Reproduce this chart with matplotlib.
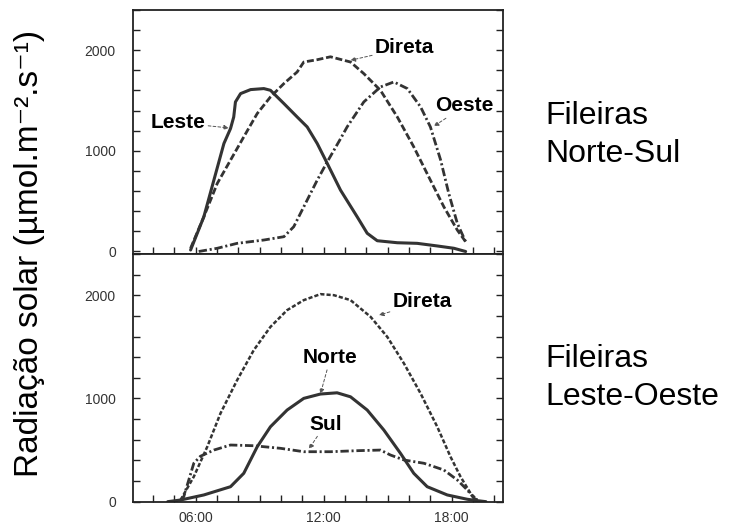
import matplotlib
matplotlib.use("Agg")
import matplotlib.pyplot as plt
from matplotlib.ticker import MultipleLocator, FixedLocator, FixedFormatter

plt.rcParams['font.family'] = ['Liberation Sans', 'DejaVu Sans']
plt.rcParams['lines.scale_dashes'] = False

# --- Fileiras Norte-Sul (hour of day, umol m-2 s-1) ---
ns_direta_h = [5.77, 6.39, 7.02, 7.64, 8.26, 8.89, 9.51, 10.14, 10.76, 11.07, 11.7, 12.32,
               13.26, 13.88, 14.66, 15.45, 16.22, 17.0, 17.63, 18.26, 18.65]
ns_direta_v = [32, 345, 677, 908, 1139, 1371, 1536, 1669, 1784, 1883, 1906, 1935,
               1883, 1768, 1602, 1337, 1040, 709, 444, 213, 97]

ns_leste_h = [5.77, 6.39, 6.86, 7.33, 7.64, 7.79, 7.87, 8.11, 8.58, 9.2, 9.51, 10.14, 10.76,
              11.23, 11.7, 12.17, 12.79, 13.57, 14.04, 14.51, 15.45, 16.38, 17.32, 18.1, 18.65]
ns_leste_v = [15, 345, 709, 1073, 1222, 1337, 1486, 1569, 1609, 1619, 1602, 1470, 1337,
              1238, 1073, 875, 610, 345, 181, 107, 87, 81, 55, 32, 0]

ns_oeste_h = [6.15, 7.02, 7.95, 9.2, 10.14, 10.6, 11.07, 11.7, 12.17, 12.79, 13.1, 13.88,
              14.66, 15.29, 15.92, 16.54, 17.0, 17.48, 17.86, 18.26, 18.65]
ns_oeste_v = [0, 32, 81, 114, 147, 246, 444, 709, 891, 1120, 1238, 1486,
              1635, 1685, 1619, 1437, 1238, 908, 577, 280, 97]

# --- Fileiras Leste-Oeste ---
lo_direta_h = [5.3, 5.92, 6.55, 7.17, 7.95, 8.73, 9.51, 10.29, 11.07, 11.85, 12.48, 13.26,
               14.2, 14.98, 15.76, 16.54, 17.32, 17.94, 18.41, 18.88, 19.19]
lo_direta_v = [16, 242, 532, 856, 1178, 1469, 1694, 1856, 1953, 2011, 2001, 1953,
               1791, 1597, 1340, 1049, 726, 436, 242, 81, 16]

lo_norte_h = [4.7, 5.3, 6.39, 7.64, 8.26, 8.89, 9.51, 10.29, 11.07, 11.85, 12.63, 13.26,
              14.04, 14.82, 15.6, 16.22, 16.85, 17.79, 18.73, 19.19, 19.6]
lo_norte_v = [0, 16, 65, 145, 275, 532, 726, 888, 1001, 1043, 1055, 1016,
              888, 694, 468, 275, 145, 65, 23, 10, 0]

lo_sul_h = [5.3, 5.45, 5.92, 6.23, 6.86, 7.64, 8.73, 9.98, 11.07, 12.32, 13.57, 14.66,
            15.13, 15.76, 16.7, 17.63, 18.26, 18.73, 19.04, 19.35]
lo_sul_v = [16, 48, 372, 440, 500, 549, 542, 517, 484, 484, 494, 500,
            452, 404, 372, 307, 210, 113, 33, 0]

hour_ticks = [6, 12, 18]
hour_labels = ['06:00', '12:00', '18:00']

ink = '#333333'

fig = plt.figure(figsize=(7.37, 5.26), dpi=100)
ax1 = fig.add_axes([0.1798, 0.5171, 0.5027, 0.4639])
ax2 = fig.add_axes([0.1798, 0.0447, 0.5027, 0.4724])

ax1.plot(ns_leste_h, ns_leste_v, color=ink, lw=2.2, solid_capstyle='round')
ax1.plot(ns_direta_h, ns_direta_v, color=ink, lw=2.0, dashes=(5, 2))
ax1.plot(ns_oeste_h, ns_oeste_v, color=ink, lw=2.0, dashes=(6, 2, 1.5, 2))

ax2.plot(lo_norte_h, lo_norte_v, color=ink, lw=2.2, solid_capstyle='round')
ax2.plot(lo_direta_h, lo_direta_v, color=ink, lw=1.8, dashes=(3, 1.5))
ax2.plot(lo_sul_h, lo_sul_v, color=ink, lw=2.0, dashes=(6, 2, 1.5, 2))

arrow = dict(arrowstyle='-|>', color='#555555', lw=0.7, linestyle=(0, (2, 1.5)),
             mutation_scale=7, shrinkA=0, shrinkB=0)
label_kw = dict(fontsize=15, fontweight='bold', ha='center', va='center', color='black')

ax1.annotate('Leste', xy=(7.56, 1228), xytext=(5.18, 1280), arrowprops=arrow, **label_kw)
ax1.annotate('Direta', xy=(13.26, 1900), xytext=(15.79, 2024), arrowprops=arrow, **label_kw)
ax1.annotate('Oeste', xy=(17.16, 1245), xytext=(18.6, 1446), arrowprops=arrow, **label_kw)

ax2.annotate('Direta', xy=(14.59, 1807), xytext=(16.62, 1936), arrowprops=arrow, **label_kw)
ax2.annotate('Norte', xy=(11.85, 1045), xytext=(12.32, 1396), arrowprops=arrow, **label_kw)
ax2.annotate('Sul', xy=(11.31, 510), xytext=(12.09, 752), arrowprops=arrow, **label_kw)

ax1.set_ylim(-25, 2400)
ax2.set_ylim(-8, 2400)

for ax in (ax1, ax2):
    ax.set_xlim(3.05, 20.4)
    ax.xaxis.set_major_locator(FixedLocator(hour_ticks))
    ax.xaxis.set_major_formatter(FixedFormatter(hour_labels))
    ax.xaxis.set_minor_locator(MultipleLocator(1))
    ax.yaxis.set_major_locator(MultipleLocator(1000))
    ax.yaxis.set_minor_locator(MultipleLocator(200))
    ax.tick_params(which='both', direction='in', length=5, width=1, color='#222222',
                   left=True, right=True, top=False, bottom=True)
    ax.tick_params(axis='y', labelsize=10, labelcolor=ink, pad=12)
    ax.tick_params(axis='x', labelsize=10, labelcolor=ink, pad=6)
    for sp in ax.spines.values():
        sp.set_linewidth(1.3)
        sp.set_color('#222222')

ax1.tick_params(axis='x', labelbottom=False)

fig.text(0.04, 0.518, 'Radiação solar (µmol.m⁻².s⁻¹)', rotation=90,
         ha='center', va='center', fontsize=24)
fig.text(0.7395, 0.6926, 'Fileiras\nNorte-Sul', ha='left', va='baseline',
         fontsize=23, linespacing=1.35)
fig.text(0.7395, 0.23, 'Fileiras\nLeste-Oeste', ha='left', va='baseline',
         fontsize=23, linespacing=1.35)

fig.savefig('out.png', dpi=100)
